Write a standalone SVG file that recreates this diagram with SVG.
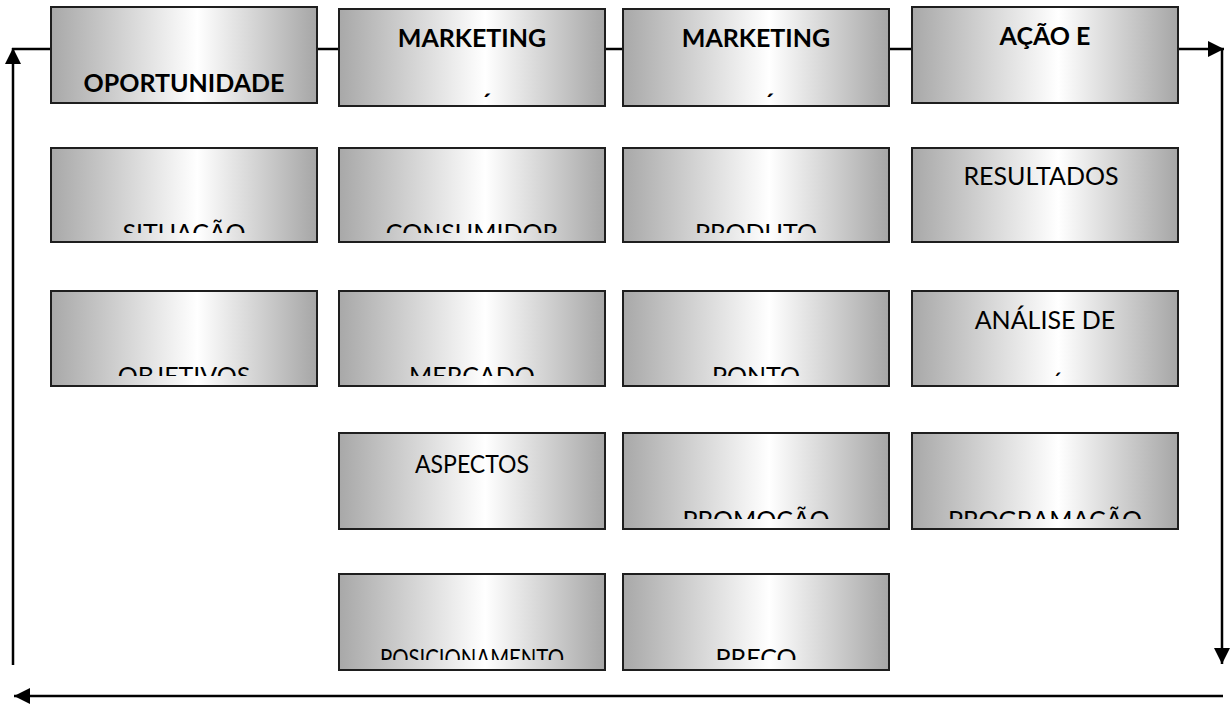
<svg xmlns="http://www.w3.org/2000/svg" width="1231" height="704" viewBox="0 0 1231 704">
  <defs>
    <linearGradient id="metal" x1="0" y1="0" x2="1" y2="0">
      <stop offset="0" stop-color="#a8a8a8"/>
      <stop offset="0.55" stop-color="#ffffff"/>
      <stop offset="1" stop-color="#a6a6a6"/>
    </linearGradient>
    <marker id="arrow" markerUnits="userSpaceOnUse" markerWidth="16" markerHeight="16" viewBox="0 0 16 16" refX="16" refY="8" orient="auto">
      <path d="M0,0 L16,8 L0,16 z" fill="#000"/>
    </marker>
    <!-- text frames: second lines are cut off by the frame bottom -->
    <clipPath id="clipR2c1"><rect x="51" y="148" width="266" height="85"/></clipPath>
    <clipPath id="clipR2c2"><rect x="339" y="148" width="266" height="85"/></clipPath>
    <clipPath id="clipR2c3"><rect x="623" y="148" width="266" height="85"/></clipPath>
    <clipPath id="clipR3c1"><rect x="51" y="291" width="266" height="85"/></clipPath>
    <clipPath id="clipR3c2"><rect x="339" y="291" width="266" height="85"/></clipPath>
    <clipPath id="clipR3c3"><rect x="623" y="291" width="266" height="85"/></clipPath>
    <clipPath id="clipR4c3"><rect x="623" y="433" width="266" height="86"/></clipPath>
    <clipPath id="clipR4c4"><rect x="912" y="433" width="266" height="86"/></clipPath>
    <clipPath id="clipR5c2"><rect x="339" y="574" width="266" height="86"/></clipPath>
    <clipPath id="clipR5c3"><rect x="623" y="574" width="266" height="86"/></clipPath>
  </defs>
  <style>
    .box { fill: url(#metal); stroke: #1e1e1e; stroke-width: 2; }
    .lbl { font-family: Lato, "Liberation Sans", sans-serif; font-size: 25px; fill: #000; text-anchor: middle; }
    .bold { font-weight: bold; }
    .link { fill: none; stroke: #000; stroke-width: 2.5; }
  </style>

  <rect width="1231" height="704" fill="#ffffff"/>

  <!-- flow connectors -->
  <g id="connectors">
    <path class="link" d="M13,665 L13,48" marker-end="url(#arrow)"/>
    <path class="link" d="M12,49 L51,49"/>
    <path class="link" d="M317,49 L339,49"/>
    <path class="link" d="M605,49 L623,49"/>
    <path class="link" d="M889,49 L912,49"/>
    <path class="link" d="M1178,49 L1224,49" marker-end="url(#arrow)"/>
    <path class="link" d="M1222,48 L1222,664" marker-end="url(#arrow)"/>
    <path class="link" d="M1223,696 L14,696" marker-end="url(#arrow)"/>
  </g>

  <!-- row 1 -->
  <g id="oportunidade">
    <rect class="box" x="51" y="7" width="266" height="96"/>
    <text class="lbl bold" x="184" y="92">OPORTUNIDADE</text>
  </g>
  <g id="marketing-1">
    <rect class="box" x="339" y="9" width="266" height="97"/>
    <text class="lbl bold" x="472" y="47">MARKETING</text>
    <text class="lbl bold" x="486" y="112">´</text>
  </g>
  <g id="marketing-2">
    <rect class="box" x="623" y="9" width="266" height="97"/>
    <text class="lbl bold" x="756" y="47">MARKETING</text>
    <text class="lbl bold" x="769" y="112">´</text>
  </g>
  <g id="acao">
    <rect class="box" x="912" y="7" width="266" height="96"/>
    <text class="lbl bold" x="1045" y="45">AÇÃO E</text>
  </g>

  <!-- row 2 -->
  <g id="situacao">
    <rect class="box" x="51" y="148" width="266" height="94"/>
    <text class="lbl" x="184" y="242" clip-path="url(#clipR2c1)">SITUAÇÃO</text>
  </g>
  <g id="consumidor">
    <rect class="box" x="339" y="148" width="266" height="94"/>
    <text class="lbl" x="472" y="242" clip-path="url(#clipR2c2)">CONSUMIDOR</text>
  </g>
  <g id="produto">
    <rect class="box" x="623" y="148" width="266" height="94"/>
    <text class="lbl" x="756" y="242" clip-path="url(#clipR2c3)">PRODUTO</text>
  </g>
  <g id="resultados">
    <rect class="box" x="912" y="148" width="266" height="94"/>
    <text class="lbl" x="1041" y="185">RESULTADOS</text>
  </g>

  <!-- row 3 -->
  <g id="objetivos">
    <rect class="box" x="51" y="291" width="266" height="95"/>
    <text class="lbl" x="184" y="385" clip-path="url(#clipR3c1)">OBJETIVOS</text>
  </g>
  <g id="mercado">
    <rect class="box" x="339" y="291" width="266" height="95"/>
    <text class="lbl" x="472" y="385" clip-path="url(#clipR3c2)">MERCADO</text>
  </g>
  <g id="ponto">
    <rect class="box" x="623" y="291" width="266" height="95"/>
    <text class="lbl" x="756" y="385" clip-path="url(#clipR3c3)">PONTO</text>
  </g>
  <g id="analise">
    <rect class="box" x="912" y="291" width="266" height="95"/>
    <text class="lbl" x="1045" y="329">ANÁLISE DE</text>
    <text class="lbl" x="1057" y="391">´</text>
  </g>

  <!-- row 4 -->
  <g id="aspectos">
    <rect class="box" x="339" y="433" width="266" height="96"/>
    <text class="lbl" x="472" y="473" textLength="114" lengthAdjust="spacingAndGlyphs">ASPECTOS</text>
  </g>
  <g id="promocao">
    <rect class="box" x="623" y="433" width="266" height="96"/>
    <text class="lbl" x="756" y="529" clip-path="url(#clipR4c3)">PROMOÇÃO</text>
  </g>
  <g id="programacao">
    <rect class="box" x="912" y="433" width="266" height="96"/>
    <text class="lbl" x="1045" y="529" clip-path="url(#clipR4c4)">PROGRAMAÇÃO</text>
  </g>

  <!-- row 5 -->
  <g id="posicionamento">
    <rect class="box" x="339" y="574" width="266" height="96"/>
    <text class="lbl" x="472" y="667" textLength="184" lengthAdjust="spacingAndGlyphs" clip-path="url(#clipR5c2)">POSICIONAMENTO</text>
  </g>
  <g id="preco">
    <rect class="box" x="623" y="574" width="266" height="96"/>
    <text class="lbl" x="756" y="667" clip-path="url(#clipR5c3)">PREÇO</text>
  </g>
</svg>
